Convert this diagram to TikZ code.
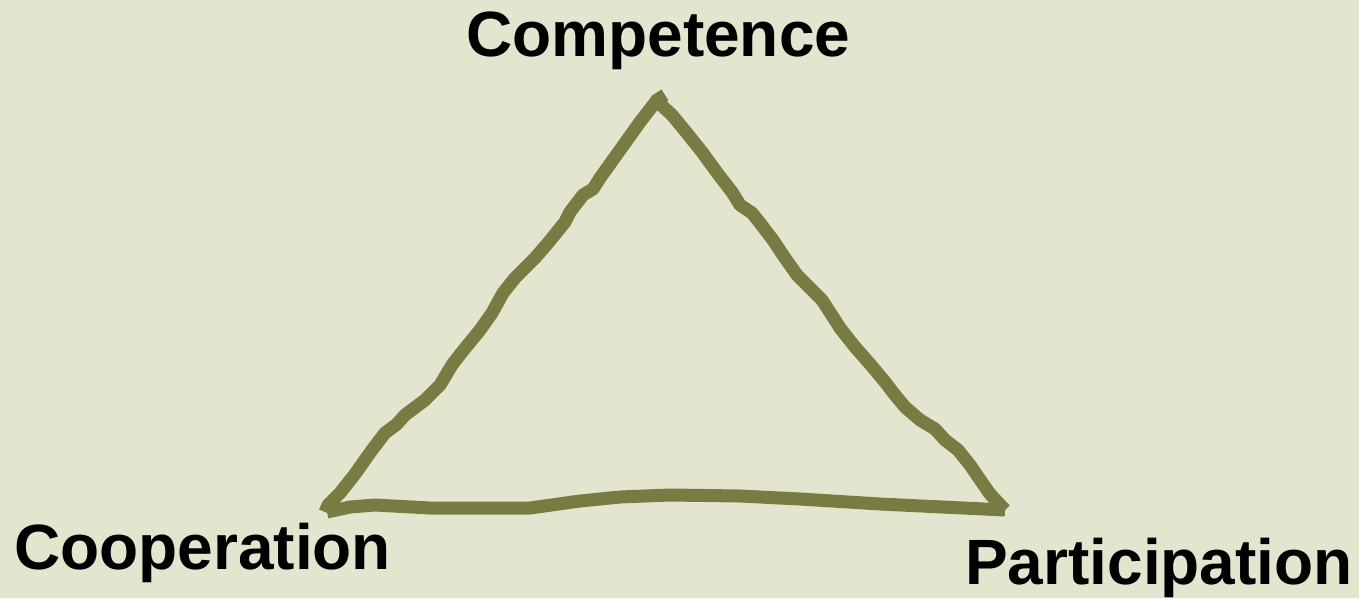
\documentclass[tikz,border=0pt]{standalone}
\usepackage{fontspec}
\setmainfont{Liberation Sans}
\definecolor{bgc}{HTML}{E3E5CF}
\definecolor{olive}{HTML}{797C42}
\begin{document}
\begin{tikzpicture}[x=1pt,y=-1pt,
  lbl/.style={font=\fontsize{64}{70}\selectfont\bfseries, inner sep=0pt, anchor=base west, text=black},
  stroke/.style={draw=olive, line width=13pt, line join=round}]
\fill[bgc] (0,0) rectangle (1359,598);
\useasboundingbox (0,0) rectangle (1359,598);
% hand-drawn triangle
\draw[stroke] (665,95) -- (657,100) -- (640,122) -- (620,150) -- (600,178) -- (593,189) -- (583,195) -- (570,212) -- (565,222) -- (548,243) -- (535,258) -- (515,278) -- (503,293) -- (492,313) -- (480,330) -- (462,352) -- (452,365) -- (440,385) -- (425,400) -- (405,415) -- (397,424) -- (385,433) -- (372,450) -- (355,474) -- (340,493) -- (328,505) -- (325,512);
\draw[stroke] (327,512) -- (350,507) -- (375,505) -- (430,508) -- (530,508) -- (580,501) -- (620,497) -- (670,495) -- (740,496) -- (800,499) -- (880,504) -- (1005,510);
\draw[stroke] (1005,510) -- (990,494) -- (983,484) -- (970,465) -- (958,450) -- (945,440) -- (935,429) -- (920,420) -- (905,407) -- (895,395) -- (885,382) -- (870,364) -- (855,347) -- (840,328) -- (833,317) -- (822,300) -- (810,288) -- (797,275) -- (785,258) -- (773,240) -- (760,223) -- (752,213) -- (740,205) -- (732,192) -- (718,174) -- (702,152) -- (686,132) -- (672,115) -- (660,104);
% labels
\node[lbl] (comp) at (466,56) {Competence};
\node[lbl] (coop) at (14,569) {Cooperation};
\node[lbl] (part) at (965,584) {Participation};
\end{tikzpicture}
\end{document}
